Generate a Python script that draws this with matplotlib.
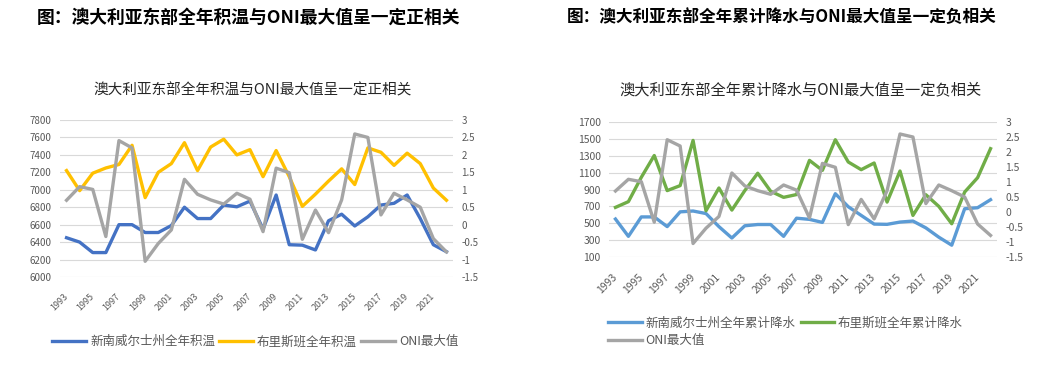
import matplotlib.pyplot as plt
from matplotlib.ticker import FuncFormatter

plt.rcParams['font.family'] = ['Noto Sans CJK SC', 'DejaVu Sans']

years = list(range(1993, 2023))
year_ticks = list(range(1993, 2022, 2))

nsw_temp = [6450, 6400, 6280, 6280, 6600, 6600, 6510, 6510, 6590, 6800,
            6670, 6670, 6825, 6805, 6870, 6550, 6940, 6370, 6365, 6310,
            6645, 6720, 6585, 6690, 6825, 6845, 6940, 6670, 6370, 6290]
bris_temp = [7220, 6990, 7190, 7250, 7290, 7510, 6910, 7200, 7300, 7540,
             7220, 7490, 7580, 7400, 7460, 7150, 7450, 7150, 6810, 6950,
             7100, 7240, 7060, 7480, 7430, 7280, 7420, 7300, 7020, 6880]
oni_max = [0.7, 1.09, 1.01, -0.34, 2.41, 2.2, -1.05, -0.54, -0.15, 1.3,
           0.87, 0.71, 0.59, 0.9, 0.73, -0.2, 1.62, 1.49, -0.42, 0.42,
           -0.23, 0.71, 2.6, 2.5, 0.28, 0.9, 0.71, 0.5, -0.4, -0.78]
nsw_rain = [550, 345, 575, 575, 460, 635, 645, 615, 460, 325,
            470, 485, 485, 345, 560, 546, 510, 850, 696, 593,
            490, 487, 514, 526, 445, 335, 240, 672, 684, 779]
bris_rain = [688, 756, 1045, 1303, 887, 946, 1482, 648, 918, 656,
             887, 1093, 879, 807, 840, 1245, 1127, 1490, 1226, 1135,
             1214, 751, 1119, 593, 838, 700, 494, 870, 1040, 1384]

temp_ticks = list(range(6000, 7801, 200))
rain_ticks = list(range(100, 1701, 200))
oni_ticks = [-1.5, -1, -0.5, 0, 0.5, 1, 1.5, 2, 2.5, 3]

W, H = 1060, 365
GRAY_TXT = '#595959'
GRID = '#D9D9D9'
LW = 2.4


def box(x0, y0, x1, y1):
    return [x0 / W, 1 - y1 / H, (x1 - x0) / W, (y1 - y0) / H]


def style(ax, ax2, yticks, ylim, fs, xfs):
    ax.set_xlim(1992.5, 2022.5)
    ax.set_ylim(*ylim)
    ax.set_yticks(yticks)
    ax.yaxis.set_major_formatter(FuncFormatter(lambda v, p: f'{v:g}'))
    ax.grid(axis='y', color=GRID, lw=0.8)
    ax.set_axisbelow(True)
    ax2.set_ylim(-1.5, 3)
    ax2.set_yticks(oni_ticks)
    ax2.yaxis.set_major_formatter(FuncFormatter(lambda v, p: f'{v:g}'))
    for a in (ax, ax2):
        for s in a.spines.values():
            s.set_visible(False)
    ax.tick_params(axis='y', length=0, pad=6, labelsize=fs, labelcolor=GRAY_TXT)
    ax2.tick_params(axis='y', length=0, pad=6, labelsize=fs, labelcolor=GRAY_TXT)
    ax.set_xticks(year_ticks)
    ax.set_xticklabels([str(y) for y in year_ticks], rotation=45, ha='right',
                       va='center', rotation_mode='anchor')
    ax.tick_params(axis='x', length=0, pad=13, labelsize=xfs, labelcolor=GRAY_TXT)


fig = plt.figure(figsize=(W / 100, H / 100), dpi=100)

# left chart: temperature
ax1 = fig.add_axes(box(60, 120, 453, 277))
ax1b = ax1.twinx()
l1, = ax1.plot(years, nsw_temp, color='#4472C4', lw=LW, solid_joinstyle='round')
l2, = ax1.plot(years, bris_temp, color='#FFC000', lw=LW, solid_joinstyle='round')
l3, = ax1b.plot(years, oni_max, color='#A5A5A5', lw=LW, solid_joinstyle='round')
style(ax1, ax1b, temp_ticks, (6000, 7800), 7, 6.5)

# right chart: rainfall
ax2 = fig.add_axes(box(609, 122, 997, 257))
ax2b = ax2.twinx()
r1, = ax2.plot(years, nsw_rain, color='#5B9BD5', lw=LW, solid_joinstyle='round')
r2, = ax2.plot(years, bris_rain, color='#70AD47', lw=LW, solid_joinstyle='round')
r3, = ax2b.plot(years, oni_max, color='#A5A5A5', lw=LW, solid_joinstyle='round')
style(ax2, ax2b, rain_ticks, (100, 1700), 7.5, 7.5)

# headings and titles
fig.text(37 / W, 1 - 17.5 / H, '图：澳大利亚东部全年积温与ONI最大值呈一定正相关',
         ha='left', va='center', fontsize=12.8, fontweight='bold')
fig.text(567 / W, 1 - 17.5 / H, '图：澳大利亚东部全年累计降水与ONI最大值呈一定负相关',
         ha='left', va='center', fontsize=12, fontweight='bold')
fig.text(253 / W, 1 - 90 / H, '澳大利亚东部全年积温与ONI最大值呈一定正相关',
         ha='center', va='center', fontsize=10.5, color='#262626')
fig.text(801 / W, 1 - 90 / H, '澳大利亚东部全年累计降水与ONI最大值呈一定负相关',
         ha='center', va='center', fontsize=11, color='#262626')

# legends
fig.legend(handles=[l1, l2, l3],
           labels=['新南威尔士州全年积温', '布里斯班全年积温', 'ONI最大值'],
           loc='center left', bbox_to_anchor=(52 / W, 1 - 341.7 / H), ncol=3,
           frameon=False, fontsize=9, handlelength=2.7, handletextpad=0.35,
           columnspacing=0.3, borderpad=0, borderaxespad=0, labelcolor=GRAY_TXT)
fig.legend(handles=[r1, r3, r2],
           labels=['新南威尔士州全年累计降水', 'ONI最大值', '布里斯班全年累计降水'],
           loc='center left', bbox_to_anchor=(608 / W, 1 - 331.7 / H), ncol=2,
           frameon=False, fontsize=9, handlelength=2.7, handletextpad=0.3,
           columnspacing=0.4, labelspacing=0.35, borderpad=0, borderaxespad=0,
           labelcolor=GRAY_TXT)

fig.savefig('out.png', dpi=100, facecolor='white')
